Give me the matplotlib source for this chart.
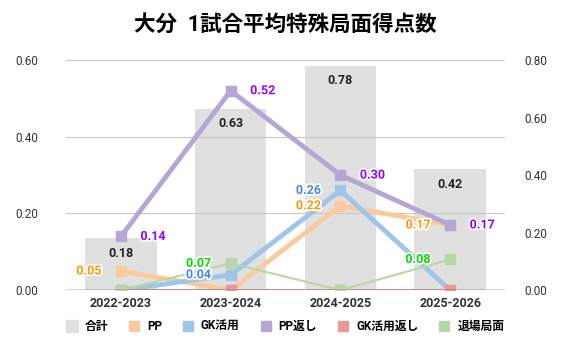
import matplotlib
matplotlib.use("Agg")
import matplotlib.pyplot as plt
import matplotlib.patheffects as pe
from matplotlib.lines import Line2D

plt.rcParams['font.family'] = ['Roboto', 'Noto Sans CJK JP', 'DejaVu Sans']

seasons = ['2022-2023', '2023-2024', '2024-2025', '2025-2026']
total = [0.18, 0.63, 0.78, 0.42]
pp = [0.05, 0.00, 0.22, 0.17]
gk = [0.00, 0.04, 0.26, 0.00]
pp_back = [0.14, 0.52, 0.30, 0.17]
gk_back = [0.00, 0.00, 0.00, 0.00]
sendoff = [0.00, 0.07, 0.00, 0.08]

# name, values, line colour, label colour, line width, label side
series = [
    ('PP', pp, '#f9cb9c', '#ff9900', 3.5, 'left'),
    ('GK活用', gk, '#9fc5e8', '#4a86e8', 3.5, 'left'),
    ('PP返し', pp_back, '#b4a7d6', '#9900ff', 3.5, 'right'),
    ('GK活用返し', gk_back, '#ea9999', '#cc0000', 2, 'left'),
    ('退場局面', sendoff, '#b6d7a8', '#00dd00', 1.5, 'left'),
]

fig = plt.figure(figsize=(5.7, 3.53), dpi=100)
ax = fig.add_axes([0.116, 0.178, 0.77, 0.652])
ax2 = ax.twinx()
ax.set_zorder(ax2.get_zorder() + 1)
ax.patch.set_visible(False)

x = list(range(len(seasons)))
ax2.bar(x, total, width=0.65, color='#e0e0e0', zorder=1)
for xi, v in zip(x, total):
    ax2.annotate(f'{v:.2f}', (xi, v), xytext=(0, -6), textcoords='offset points',
                 ha='center', va='top', fontsize=9, fontweight='bold', color='#222222')

ax.set_xlim(-0.5, 3.5)
ax.set_ylim(0, 0.6)
ax2.set_ylim(0, 0.8)
for yv in [0.2, 0.4, 0.6]:
    ax.axhline(yv, color='#c8c8c8', lw=0.8, zorder=0)
ax.axhline(0, color='#333333', lw=1, zorder=5)

outline = [pe.withStroke(linewidth=2.5, foreground='white')]
for name, vals, col, lcol, lw, side in series:
    ax.plot(x, vals, color=col, lw=lw, marker='s', markersize=7, zorder=3,
            solid_joinstyle='miter')
    for xi, v in zip(x, vals):
        if v == 0:
            continue
        dx = 14 if side == 'right' else -14
        ax.annotate(f'{v:.2f}', (xi, v), xytext=(dx, 0), textcoords='offset points',
                    ha='left' if side == 'right' else 'right', va='center',
                    fontsize=9, fontweight='bold', color=lcol, path_effects=outline,
                    zorder=6)

ax.set_yticks([0, 0.2, 0.4, 0.6])
ax.set_yticklabels(['0.00', '0.20', '0.40', '0.60'])
ax2.set_yticks([0, 0.2, 0.4, 0.6, 0.8])
ax2.set_yticklabels(['0.00', '0.20', '0.40', '0.60', '0.80'])
ax.set_xticks(x)
ax.set_xticklabels(seasons, fontweight='bold')
for a in (ax, ax2):
    a.tick_params(length=0, labelsize=8.5, colors='#333333')
    for s in a.spines.values():
        s.set_visible(False)
ax.tick_params(axis='y', pad=20)
ax2.tick_params(axis='y', pad=14)
ax.tick_params(axis='x', pad=5, labelsize=9)

fig.suptitle('大分  1試合平均特殊局面得点数', x=0.5, y=0.96, fontsize=15.5, fontweight='bold')

handles = [Line2D([], [], marker='s', ls='', color='#e0e0e0', markersize=9)]
labels = ['合計']
for name, vals, col, lcol, lw, side in series:
    handles.append(Line2D([], [], marker='s', ls='', color=col, markersize=7))
    labels.append(name)
fig.legend(handles, labels, loc='center', bbox_to_anchor=(0.5, 0.075), ncol=6,
           frameon=False, prop={'size': 8.5, 'weight': 'bold'}, handletextpad=0.6,
           columnspacing=1.7, handlelength=1.0)

fig.savefig('out.png', dpi=100)
